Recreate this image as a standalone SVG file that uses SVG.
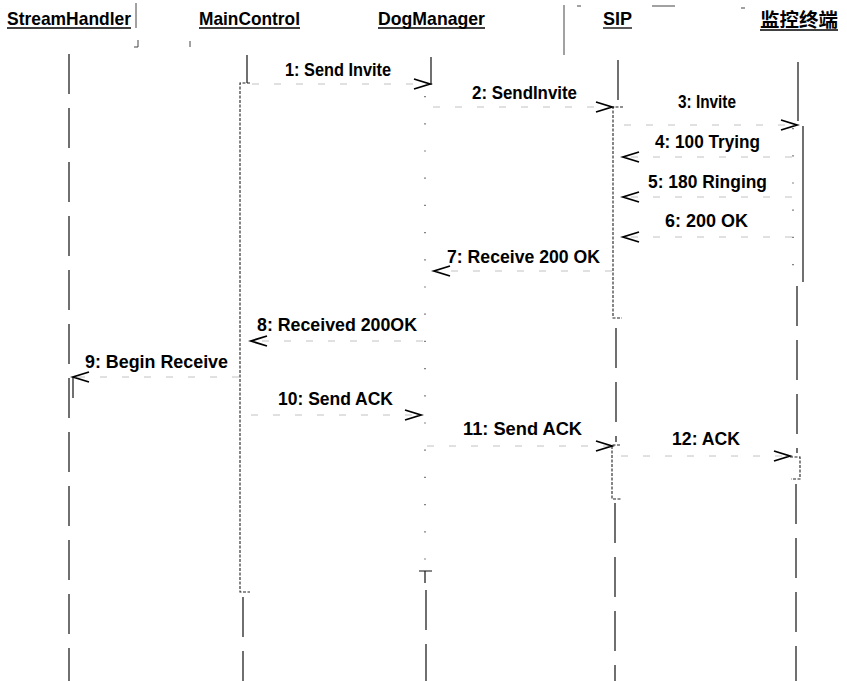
<svg xmlns="http://www.w3.org/2000/svg" width="847" height="681" viewBox="0 0 847 681">
<defs>
<style>
.hdr{font-family:"Liberation Sans",Arial,"Noto Sans CJK SC",sans-serif;font-weight:bold;font-size:19px;fill:#000}
.cjk{font-family:"Noto Sans CJK SC","Liberation Sans",sans-serif;font-weight:bold;font-size:19px;fill:#000}
.ul{stroke:#000;stroke-width:1.3}
.lbl{font-family:"Liberation Sans",Arial,sans-serif;font-weight:bold;font-size:19px;fill:#000}
.life{stroke:#111;stroke-width:1.2;fill:none;stroke-dasharray:40 14}
.solid{stroke:#111;stroke-width:1.2;fill:none}
.act{stroke:#222;stroke-width:1.1;fill:none;stroke-dasharray:3 1.5}
.dots{stroke:#333;stroke-width:1.2;fill:none;stroke-dasharray:1.2 26}
.msg{stroke:#bbb;stroke-width:0.9;fill:none;stroke-dasharray:7 15;marker-end:url(#open)}
.scan{stroke:#444;stroke-width:1;fill:none}
</style>
<marker id="open" markerUnits="userSpaceOnUse" markerWidth="20" markerHeight="14" refX="17" refY="6" orient="auto">
<path d="M1,1 L17,6 L1,11" fill="none" stroke="#000" stroke-width="1.8" stroke-dasharray="none"/>
</marker>
</defs>
<rect width="847" height="681" fill="#fff"/>

<g id="scan-marks">
<path class="scan" d="M136,3 V28"/>
<path class="scan" d="M138,40 V47 H134"/>
<path class="scan" d="M190,41 V47"/>
<path class="scan" d="M564,5 V55"/>
<path class="scan" d="M577,6 H581"/>
<path class="scan" d="M652,6 H675"/>
<path class="scan" d="M741,8 H745"/>
</g>

<g id="node-streamhandler">
<text class="hdr" x="7" y="25" textLength="124" lengthAdjust="spacingAndGlyphs">StreamHandler</text>
<line class="ul" x1="7" y1="28" x2="131" y2="28"/>
<path class="life" d="M69,54 V681"/>
<path class="solid" d="M73,377 V398"/>
</g>

<g id="node-maincontrol">
<text class="hdr" x="199" y="25" textLength="101" lengthAdjust="spacingAndGlyphs">MainControl</text>
<line class="ul" x1="199" y1="28" x2="300" y2="28"/>
<path class="solid" d="M247,55 V83"/>
<path class="act" d="M250,83 H240 V592 H250"/>
<path class="life" d="M243,597 V681"/>
</g>

<g id="node-dogmanager">
<text class="hdr" x="378" y="25" textLength="107" lengthAdjust="spacingAndGlyphs">DogManager</text>
<line class="ul" x1="378" y1="28" x2="485" y2="28"/>
<path class="solid" d="M431,57 V85"/>
<path class="dots" d="M425,96 V560"/>
<path class="solid" d="M419,571 H432 M425,571 V583"/>
<path class="life" d="M426,590 V681"/>
</g>

<g id="node-sip">
<text class="hdr" x="603" y="25" textLength="29" lengthAdjust="spacingAndGlyphs">SIP</text>
<line class="ul" x1="603" y1="28" x2="632" y2="28"/>
<path class="solid" d="M618,60 V100"/>
<path class="act" d="M623,107 H613 V318 H622"/>
<path class="life" d="M616,328 V442"/>
<path class="act" d="M620,445 H612 V499 H621"/>
<path class="life" d="M615,503 V681"/>
</g>

<g id="node-terminal">
<text class="cjk" x="760" y="27" textLength="78" lengthAdjust="spacingAndGlyphs">监控终端</text>
<line class="ul" x1="760" y1="30" x2="838" y2="30"/>
<path class="solid" d="M798,62 V121"/>
<path class="solid" d="M803,126 V282"/>
<path class="dots" d="M793,128 V280"/>
<path class="life" d="M797,286 V453"/>
<path class="act" d="M790,457 H800 V479 H791"/>
<path class="life" d="M796,484 V681"/>
</g>

<g id="connectors">
<g id="m1"><path class="msg" d="M252,84 H430"/><text class="lbl" x="285" y="76" textLength="106" lengthAdjust="spacingAndGlyphs">1: Send Invite</text></g>
<g id="m2"><path class="msg" d="M433,107 H612"/><text class="lbl" x="472" y="99" textLength="105" lengthAdjust="spacingAndGlyphs">2: SendInvite</text></g>
<g id="m3"><path class="msg" d="M624,125 H797"/><text class="lbl" x="678" y="108" textLength="58" lengthAdjust="spacingAndGlyphs">3: Invite</text></g>
<g id="m4"><path class="msg" d="M792,157 H623"/><text class="lbl" x="655" y="148" textLength="105" lengthAdjust="spacingAndGlyphs">4: 100 Trying</text></g>
<g id="m5"><path class="msg" d="M792,197 H623"/><text class="lbl" x="648" y="188" textLength="119" lengthAdjust="spacingAndGlyphs">5: 180 Ringing</text></g>
<g id="m6"><path class="msg" d="M792,237 H623"/><text class="lbl" x="665" y="227" textLength="83" lengthAdjust="spacingAndGlyphs">6: 200 OK</text></g>
<g id="m7"><path class="msg" d="M612,271 H434"/><text class="lbl" x="447" y="263" textLength="153" lengthAdjust="spacingAndGlyphs">7: Receive 200 OK</text></g>
<g id="m8"><path class="msg" d="M423,341 H251"/><text class="lbl" x="257" y="331" textLength="160" lengthAdjust="spacingAndGlyphs">8: Received 200OK</text></g>
<g id="m9"><path class="msg" d="M239,377 H73"/><text class="lbl" x="85" y="368" textLength="143" lengthAdjust="spacingAndGlyphs">9: Begin Receive</text></g>
<g id="m10"><path class="msg" d="M251,415 H421"/><text class="lbl" x="278" y="405" textLength="115" lengthAdjust="spacingAndGlyphs">10: Send ACK</text></g>
<g id="m11"><path class="msg" d="M427,446 H612"/><text class="lbl" x="463" y="435" textLength="119" lengthAdjust="spacingAndGlyphs">11: Send ACK</text></g>
<g id="m12"><path class="msg" d="M621,456 H790"/><text class="lbl" x="672" y="445" textLength="68" lengthAdjust="spacingAndGlyphs">12: ACK</text></g>
</g>
</svg>
